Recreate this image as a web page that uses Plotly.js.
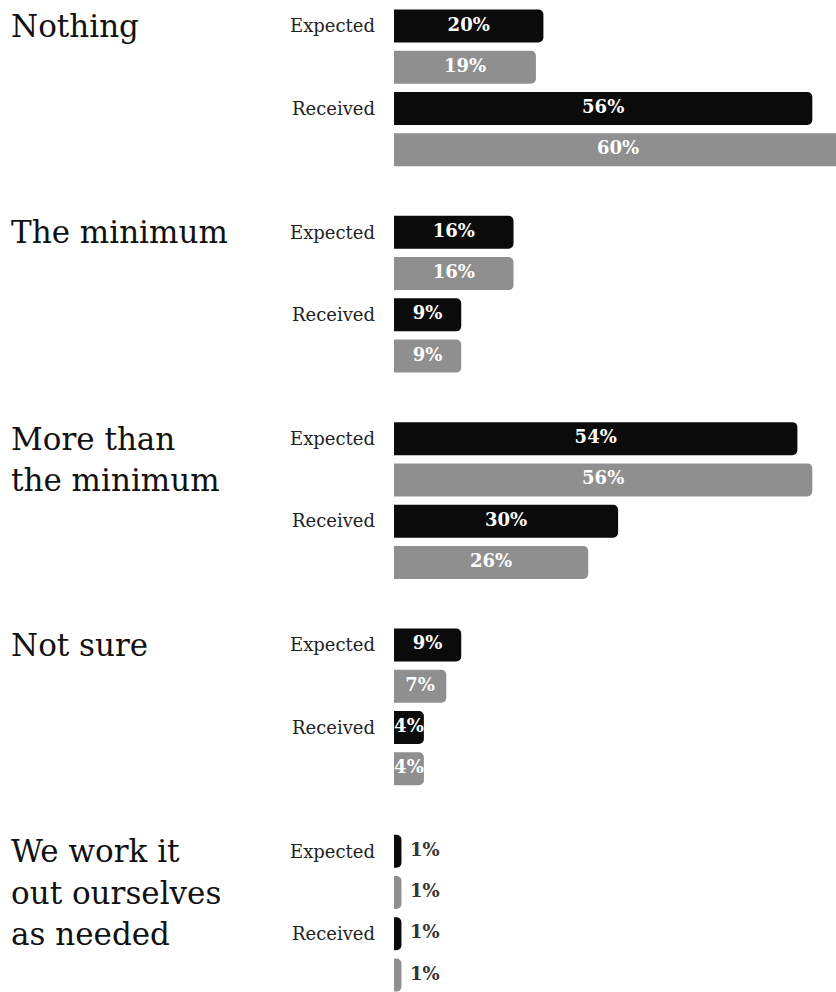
<!DOCTYPE html>
<html>
<head>
<meta charset="utf-8">
<script src="https://cdn.plot.ly/plotly-3.0.1.min.js"></script>
<style>html,body{margin:0;padding:0;background:#fff;}#chart{width:836px;height:992px;}</style>
</head>
<body>
<div id="chart"></div>
<script>
// ---- data ----
const categories = ["Nothing", "The minimum", "More than<br>the minimum", "Not sure", "We work it<br>out ourselves<br>as needed"];
const rowLabels = ["Expected", "Received"];
const expectedDark  = [20, 16, 54, 9, 1];
const expectedLight = [19, 16, 56, 7, 1];
const receivedDark  = [56, 9, 30, 4, 1];
const receivedLight = [60, 9, 26, 4, 1];

// ---- styling / layout helpers ----
const DARK = "#0b0b0b", LIGHT = "#8f8f8f";
const GROUP = 5; // slots per category (4 bars + gap)
const INSIDE_MIN = 3; // values at or above this get a label inside the bar
const seriesList = [
  {vals: expectedDark,  slot: 0, color: DARK},
  {vals: expectedLight, slot: 1, color: LIGHT},
  {vals: receivedDark,  slot: 2, color: DARK},
  {vals: receivedLight, slot: 3, color: LIGHT}
];

const traces = [];
seriesList.forEach(s => {
  const ys = s.vals.map((_, i) => i * GROUP + s.slot);
  traces.push({
    type: "bar",
    orientation: "h",
    x: s.vals,
    y: ys,
    width: 0.8,
    marker: {color: s.color, cornerradius: 5, line: {width: 0}},
    textposition: "none",
    cliponaxis: true,
    hoverinfo: "skip"
  });
});
// value labels (inside = centred in bar, outside = right of bar)
seriesList.forEach(s => {
  const ys = s.vals.map((_, i) => i * GROUP + s.slot);
  const inside = s.vals.map(v => v >= INSIDE_MIN);
  traces.push({
    type: "scatter",
    mode: "markers+text",
    x: s.vals.map((v, k) => inside[k] ? v / 2 : v),
    y: ys,
    marker: {size: inside.map(f => f ? 0 : 12), color: "rgba(0,0,0,0)", opacity: 0, line: {width: 0, color: "rgba(0,0,0,0)"}},
    text: s.vals.map(v => v + "%"),
    textposition: inside.map(f => f ? "middle center" : "middle right"),
    textfont: {
      family: "DejaVu Serif", size: 18, weight: "bold",
      color: inside.map(f => f ? "#ffffff" : "#333333")
    },
    cliponaxis: false,
    hoverinfo: "skip"
  });
});

const tickvals = [], ticktext = [];
categories.forEach((c, i) => {
  tickvals.push(i * GROUP + 0); ticktext.push(rowLabels[0]);
  tickvals.push(i * GROUP + 2); ticktext.push(rowLabels[1]);
});

const annotations = [];
categories.forEach((c, i) => {
  c.split("<br>").forEach((line, j) => {
    annotations.push({
      text: line,
      xref: "paper", x: 0, xanchor: "left", xshift: -385,
      yref: "y", y: i * GROUP + j, yanchor: "middle",
      showarrow: false,
      font: {family: "DejaVu Serif", size: 31, color: "#111111"}
    });
  });
});

const layout = {
  width: 836, height: 992,
  margin: {l: 394, r: 0, t: 0, b: 0, pad: 0},
  paper_bgcolor: "#ffffff", plot_bgcolor: "#ffffff",
  showlegend: false,
  barmode: "overlay",
  xaxis: {range: [0, 59.17], visible: false, fixedrange: true},
  yaxis: {
    range: [23.41, -0.63],
    tickmode: "array", tickvals: tickvals, ticktext: ticktext,
    ticks: "", ticklabelstandoff: 18,
    showgrid: false, zeroline: false, showline: false,
    tickfont: {family: "DejaVu Serif", size: 18, color: "#222222"},
    fixedrange: true
  },
  annotations: annotations
};

Plotly.newPlot("chart", traces, layout, {staticPlot: true, displayModeBar: false});
</script>
</body>
</html>
